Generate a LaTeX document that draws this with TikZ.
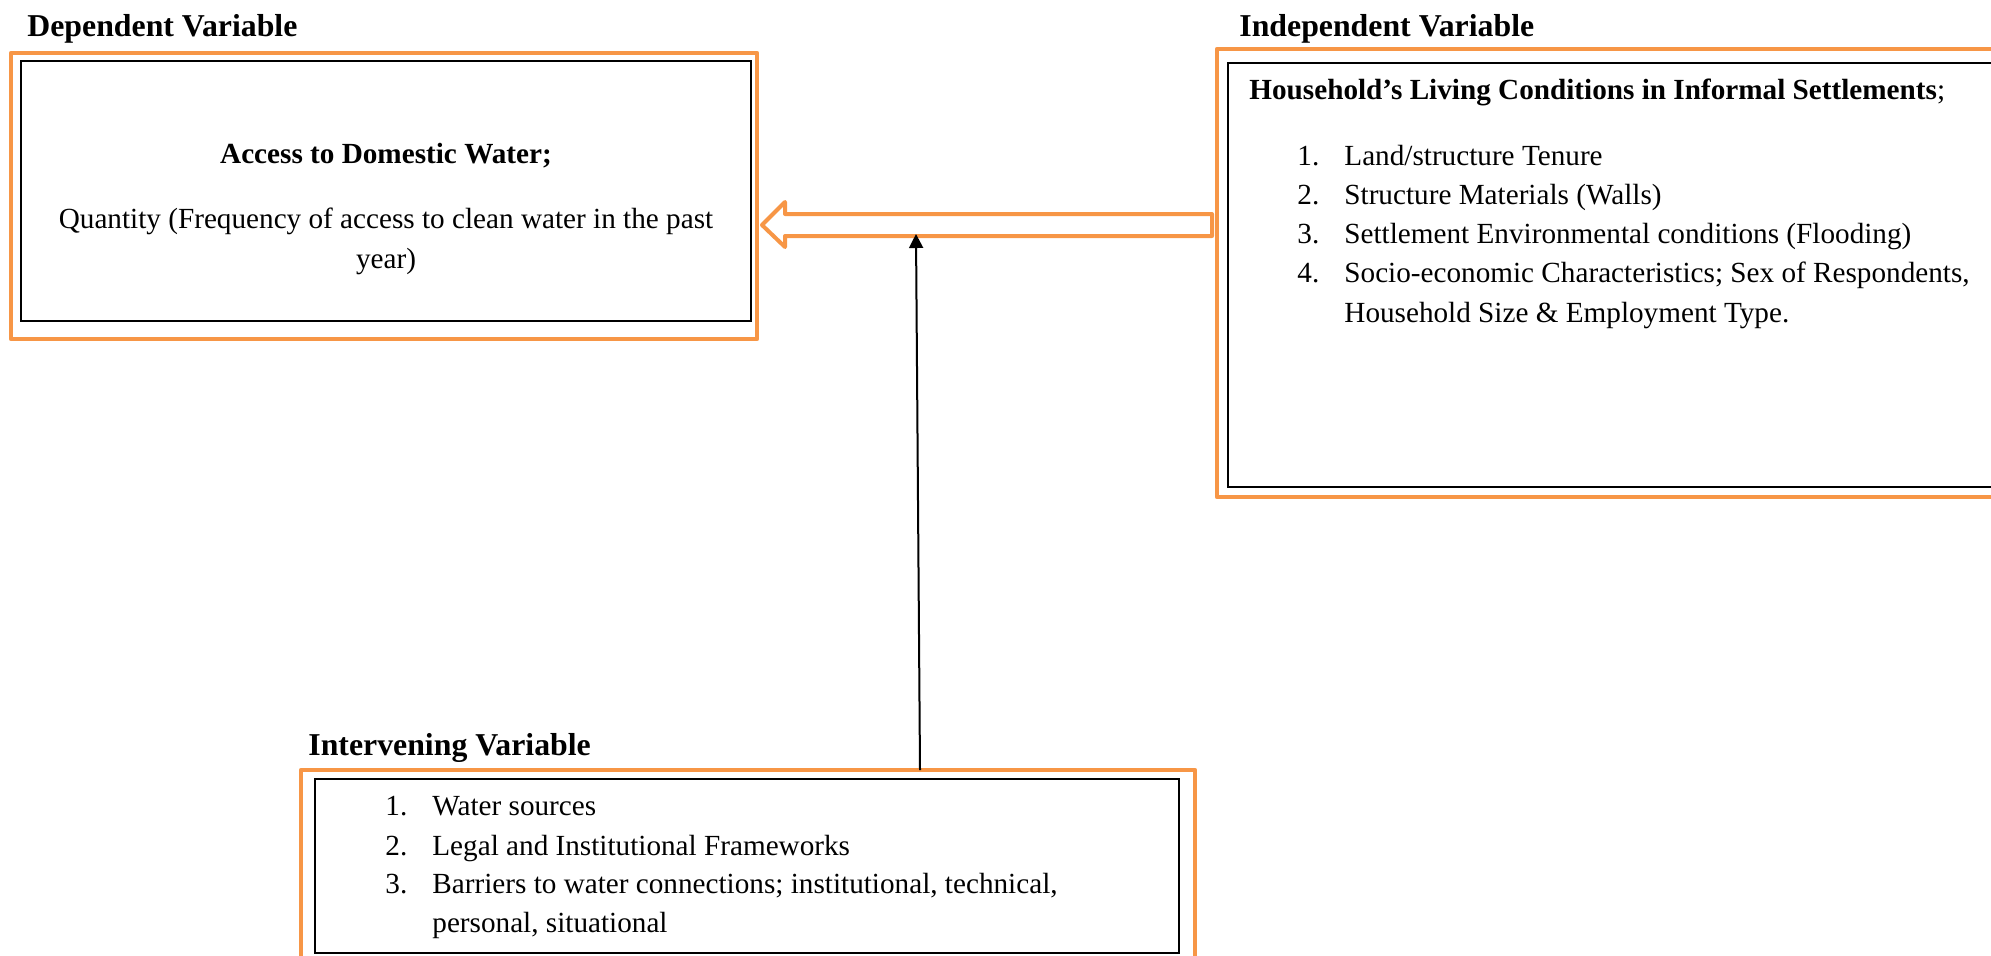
\documentclass[tikz,border=0pt]{standalone}
\usepackage{fontspec}
\setmainfont{Liberation Serif}
\usetikzlibrary{fit,arrows.meta}
\definecolor{wordorange}{HTML}{F79646}
\begin{document}
\begin{tikzpicture}[x=0.5pt,y=-0.5pt,
  obox/.style={draw=wordorange, line width=2.2pt, inner sep=0pt, line join=round},
  kbox/.style={draw=black, line width=0.7pt, inner sep=0pt},
  body/.style={inner sep=0pt, font=\fontsize{14.6}{17}\selectfont, anchor=base west},
  bodyc/.style={inner sep=0pt, font=\fontsize{14.6}{17}\selectfont, anchor=base},
  head/.style={inner sep=0pt, font=\fontsize{15.9}{19}\selectfont\bfseries, anchor=base west},
  hollowarrow/.style={draw=wordorange, line width=2pt, line join=round, fill=white},
  blackarrow/.style={draw=black, line width=1pt, -{Triangle[length=7pt,width=7pt]}}
]
\useasboundingbox (0,0) rectangle (1991,955);

% ---------- Dependent variable ----------
\coordinate (dO1) at (11,53);   \coordinate (dO2) at (757,339);
\coordinate (dK1) at (21,61);   \coordinate (dK2) at (751,321);
\node[obox, fit=(dO1)(dO2)] (depO) {};
\node[kbox, fit=(dK1)(dK2)] (depK) {};
\node[head] (depH) at (27,36) {Dependent Variable};
\node[bodyc, font=\fontsize{14.6}{17}\selectfont\bfseries] (depT) at (386,163) {Access to Domestic Water;};
\node[bodyc] (depL1) at (386,228) {Quantity (Frequency of access to clean water in the past};
\node[bodyc] (depL2) at (386,268) {year)};

% ---------- Independent variable ----------
\coordinate (iO1) at (1217,49);  \coordinate (iO2) at (2010,497);
\coordinate (iK1) at (1228,63);  \coordinate (iK2) at (2004,487);
\node[obox, fit=(iO1)(iO2)] (indO) {};
\node[kbox, fit=(iK1)(iK2)] (indK) {};
\node[head] (indH) at (1239,36) {Independent Variable};
\node[body] (indT) at (1249,99) {\textbf{Household’s Living Conditions in Informal Settlements};};
\node[body] (indN1) at (1297,165) {1.};
\node[body] (indI1) at (1344,165) {Land/structure Tenure};
\node[body] (indN2) at (1297,204) {2.};
\node[body] (indI2) at (1344,204) {Structure Materials (Walls)};
\node[body] (indN3) at (1297,243) {3.};
\node[body] (indI3) at (1344,243) {Settlement Environmental conditions (Flooding)};
\node[body] (indN4) at (1297,282) {4.};
\node[body] (indI4) at (1344,282) {Socio-economic Characteristics; Sex of Respondents,};
\node[body] (indI4b) at (1344,322) {Household Size \& Employment Type.};

% ---------- Intervening variable ----------
\coordinate (vO1) at (301,770);  \coordinate (vO2) at (1195,975);
\coordinate (vK1) at (315,779);  \coordinate (vK2) at (1179,953);
\node[obox, fit=(vO1)(vO2)] (intO) {};
\node[kbox, fit=(vK1)(vK2)] (intK) {};
\node[head] (intH) at (308,755) {Intervening Variable};
\node[body] (intN1) at (385,815) {1.};
\node[body] (intI1) at (432,815) {Water sources};
\node[body] (intN2) at (385,855) {2.};
\node[body] (intI2) at (432,855) {Legal and Institutional Frameworks};
\node[body] (intN3) at (385,893) {3.};
\node[body] (intI3) at (432,893) {Barriers to water connections; institutional, technical,};
\node[body] (intI3b) at (432,932) {personal, situational};

% ---------- Connectors ----------
\draw[hollowarrow] (762,225) -- (785,202) -- (785,214) -- (1212,214)
      -- (1212,236) -- (785,236) -- (785,247) -- cycle;
\coordinate (vbase) at (920,770);
\coordinate (vtip) at (916,234);
\draw[blackarrow] (vbase) -- (vtip);
\end{tikzpicture}
\end{document}
